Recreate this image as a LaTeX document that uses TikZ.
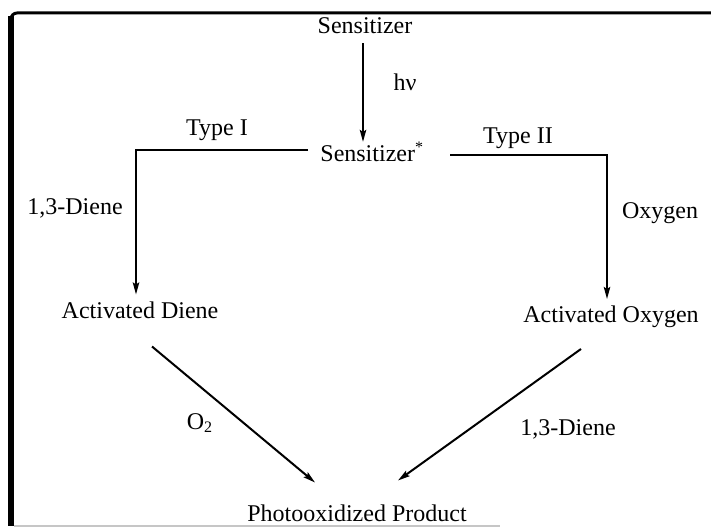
\documentclass[tikz,border=0pt]{standalone}
\usepackage{fontspec}
\setmainfont{Liberation Serif}
\usetikzlibrary{arrows.meta}
\begin{document}
\begin{tikzpicture}[x=0.5pt,y=-0.5pt,
  every node/.style={font=\fontsize{12}{14}\selectfont},
  arr/.style={line width=1pt,-{Stealth[length=6pt,width=3.2pt,inset=1pt]}},
  conn/.style={line width=1pt}]
\useasboundingbox (0,0) rectangle (711,528);
% frame
\draw[line width=1.5pt,rounded corners=3pt] (11,60) -- (11,13) -- (711,13);
\draw[line width=3pt] (11,16) -- (11,526);
\draw[gray!45,line width=0.8pt] (14,526) -- (500,526);
% species
\node (sens) at (365,26) {Sensitizer};
\node[anchor=west,inner sep=0pt] (sensx) at (320,152) {Sensitizer\textsuperscript{*}};
\node (dienex) at (140,310) {Activated Diene};
\node (oxyx) at (611,317) {Activated Oxygen};
\node (prod) at (357,513) {Photooxidized Product};
% labels
\node (hv) at (405,82) {hν};
\node (typeI) at (217,130) {Type I};
\node (typeII) at (518,138) {Type II};
\node (dieneI) at (75,208) {1,3-Diene};
\node (oxy) at (660,213) {Oxygen};
\node (otwo) at (200,423) {O\textsubscript{2}};
\node (dieneII) at (568,429) {1,3-Diene};
% connectors
\draw[arr] (sens.south) ++(-1pt,-1pt) -- ([xshift=-1pt]sensx.north -| sens.south);
\draw[arr,shorten <=6pt] ([yshift=1pt]sensx.west) -| ([xshift=-2pt]dienex.north);
\draw[arr,shorten <=13pt] ([yshift=-1.5pt]sensx.east) -| ([xshift=-2pt]oxyx.north);
\draw[arr] ([xshift=6pt,yshift=-10.5pt]dienex.south) -- ([xshift=-21pt,yshift=7.5pt]prod.north);
\draw[arr] ([xshift=-15pt,yshift=-7pt]oxyx.south) -- ([xshift=20.5pt,yshift=8.5pt]prod.north);
\end{tikzpicture}
\end{document}
